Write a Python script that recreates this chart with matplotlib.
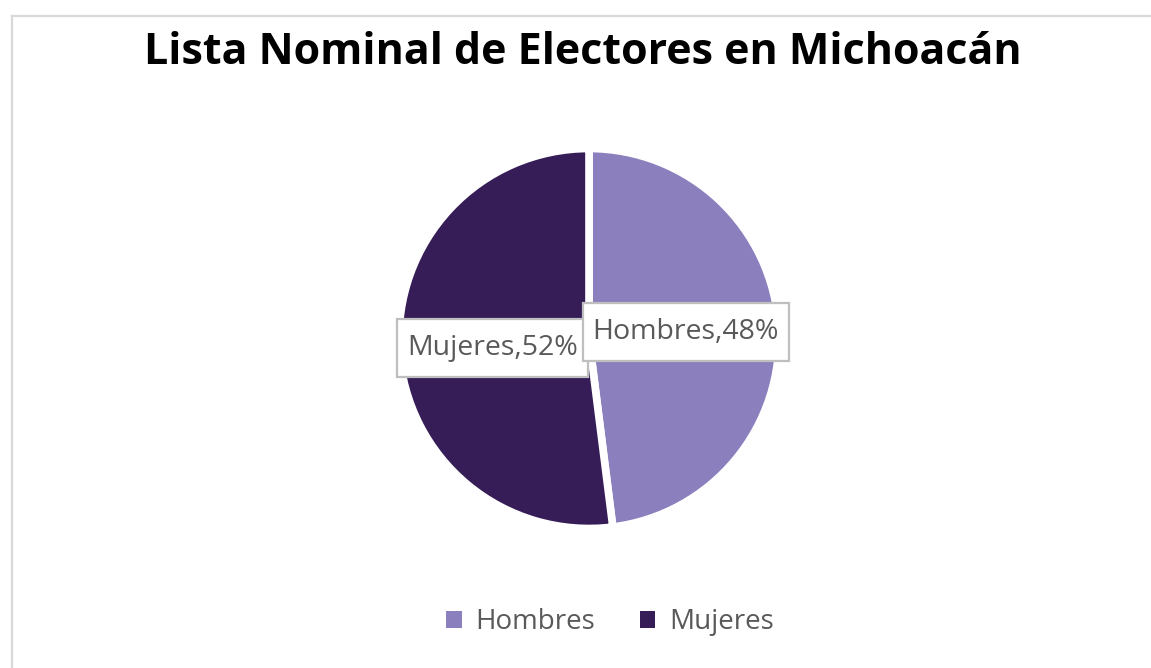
import matplotlib
matplotlib.use("Agg")
import matplotlib.pyplot as plt
from matplotlib.patches import Patch, Rectangle
from matplotlib.lines import Line2D

categories = ["Hombres", "Mujeres"]
percentages = [48, 52]
colors = ["#8B7FBD", "#371D57"]
title = "Lista Nominal de Electores en Michoacán"

W, H = 1151, 668
fig = plt.figure(figsize=(W / 100, H / 100), dpi=100)
plt.rcParams['font.family'] = ['Open Sans', 'DejaVu Sans']
ax = fig.add_axes([0, 0, 1, 1])

# chart border (left and top visible)
fig.add_artist(Line2D([12 / W, 12 / W], [0, 1 - 16 / H], color="#D9D9D9", lw=1.6))
fig.add_artist(Line2D([12 / W, 1], [1 - 16 / H, 1 - 16 / H], color="#D9D9D9", lw=1.6))

labels = [f"{c},{p}%" for c, p in zip(categories, percentages)]
wedges, texts = ax.pie(percentages, colors=colors, startangle=90, counterclock=False,
                       center=(589, H - 338.5), radius=190, labels=labels,
                       labeldistance=0.51,
                       wedgeprops=dict(edgecolor="white", linewidth=5.5),
                       frame=True)
ax.set_xlim(0, W)
ax.set_ylim(0, H)
ax.axis("off")
for t in texts:
    t.set_ha("center")
    t.set_va("center")
    t.set_fontsize(20.5)
    t.set_color("#595959")
texts[1].set_position((texts[1].get_position()[0], texts[1].get_position()[1] - 3))

fig.text(583 / W, 1 - 53 / H, title, ha="center", va="center",
         fontsize=31, fontweight="bold", color="black")

handles = [Patch(facecolor=c, edgecolor="none", label=l) for c, l in zip(colors, categories)]
fig.legend(handles=handles, loc="center", bbox_to_anchor=(610 / W, 1 - 622 / H),
           ncol=2, frameon=False, fontsize=20, labelcolor="#595959",
           handlelength=0.55, handleheight=0.55, handletextpad=0.5,
           columnspacing=1.6)

# label boxes sized from text extents (Mujeres below, Hombres on top)
fig.canvas.draw()
renderer = fig.canvas.get_renderer()
inv = ax.transData.inverted()
for i, t in enumerate(reversed(texts)):
    bb = t.get_window_extent(renderer)
    (dx0, dy0), (dx1, dy1) = inv.transform([(bb.x0 - 10, bb.y0 - 15), (bb.x1 + 10, bb.y1 + 15)])
    base = 5 + 2 * i
    rect = Rectangle((dx0, dy0), dx1 - dx0, dy1 - dy0,
                     facecolor="white", edgecolor="#BFBFBF", linewidth=1.6,
                     zorder=base)
    ax.add_patch(rect)
    t.set_zorder(base + 1)

fig.savefig("out.png", dpi=100)
